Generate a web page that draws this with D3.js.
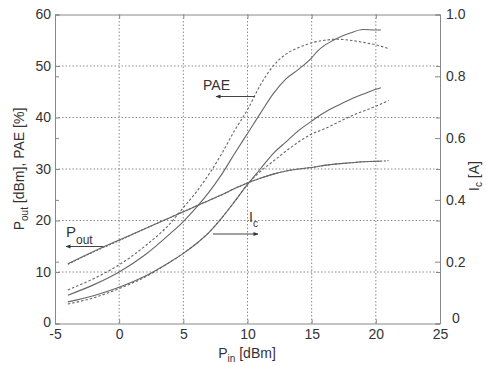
<!DOCTYPE html>
<html>
<head>
<meta charset="utf-8">
<script src="https://cdn.jsdelivr.net/npm/d3@7"></script>
<style>
  body { margin: 0; background: #fff; }
  svg { display: block; font-family: "Liberation Sans", Arial, sans-serif; }
</style>
</head>
<body>
<div id="svg-area"></div>
<script>
const width = 486;
const height = 365;
const margin = {top: 14.5, left: 55, bottom: 41.5, right: 46};

// measured (solid) and simulated (dotted) curves, Pin in dBm
const pinMeas = [-4, -2, 0, 2, 4, 5, 6, 7, 8, 9, 10, 11, 12, 13, 14, 15, 15.5, 16, 17, 18, 19, 20, 20.4];
const poutMeas = [11.6, 14, 16.2, 18.4, 20.6, 21.7, 22.8, 23.9, 25, 26.2, 27.3, 28.2, 29, 29.6, 30, 30.3, 30.5, 30.7, 31, 31.2, 31.4, 31.5, 31.5];
const paeMeas = [5.5, 7.5, 10, 13.3, 17.5, 19.8, 22.5, 25.5, 29, 33, 36.9, 40.8, 44.6, 47.5, 49.4, 51.6, 53, 54, 55.4, 56.4, 57.1, 57, 57];
const icMeas = [0.07, 0.09, 0.117, 0.153, 0.2, 0.227, 0.258, 0.295, 0.342, 0.395, 0.45, 0.5, 0.55, 0.588, 0.625, 0.655, 0.67, 0.683, 0.705, 0.725, 0.742, 0.758, 0.763];

const pinSim = [-4, -2, 0, 2, 4, 5, 6, 7, 8, 9, 10, 11, 12, 13, 14, 15, 16, 17, 18, 19, 20, 21];
const poutSim = [11.5, 13.9, 16.1, 18.4, 20.6, 21.7, 22.8, 23.9, 25, 26.2, 27.3, 28.2, 29, 29.6, 30, 30.3, 30.7, 31, 31.2, 31.4, 31.5, 31.6];
const paeSim = [6.5, 8.7, 11.4, 15, 19.5, 22.5, 25.5, 29, 33, 37.5, 41.5, 46.3, 50, 52.3, 53.6, 54.5, 55, 55.2, 55, 54.6, 54.1, 53.4];
const icSim = [0.063, 0.083, 0.113, 0.15, 0.2, 0.227, 0.258, 0.295, 0.342, 0.395, 0.45, 0.492, 0.525, 0.558, 0.588, 0.613, 0.63, 0.65, 0.67, 0.687, 0.703, 0.722];

const xTicks = [-5, 0, 5, 10, 15, 20, 25];
const yLeftTicks = [0, 10, 20, 30, 40, 50, 60];
const yRightTicks = [0, 0.2, 0.4, 0.6, 0.8, 1.0];

const x = d3.scaleLinear().domain([-5, 25]).range([margin.left, width - margin.right]);
const yL = d3.scaleLinear().domain([0, 60]).range([height - margin.bottom, margin.top]);
const yR = d3.scaleLinear().domain([0, 1]).range([height - margin.bottom, margin.top]);

const svg = d3.select('#svg-area').append('svg').attr('width', width).attr('height', height);

const gridColor = '#8a8a8a';
const lineColor = '#666';
const textColor = '#333';

// grid
svg.append('g')
  .selectAll('line').data(xTicks.slice(1, -1)).enter().append('line')
  .attr('x1', d => x(d)).attr('x2', d => x(d))
  .attr('y1', yL(0)).attr('y2', yL(60))
  .attr('stroke', gridColor).attr('stroke-dasharray', '1.5,2');
svg.append('g')
  .selectAll('line').data(yLeftTicks.slice(1, -1)).enter().append('line')
  .attr('x1', x(-5)).attr('x2', x(25))
  .attr('y1', d => yL(d)).attr('y2', d => yL(d))
  .attr('stroke', gridColor).attr('stroke-dasharray', '1.5,2');

// axes
const axisStyle = g => g
  .call(g => g.select('.domain').attr('stroke', '#888'))
  .call(g => g.selectAll('.tick line').attr('stroke', '#888'))
  .call(g => g.selectAll('text').attr('fill', textColor).style('font-size', '14px').style('font-family', '"Liberation Sans", Arial, sans-serif'));

svg.append('g')
  .attr('transform', `translate(0, ${yL(0)})`)
  .call(d3.axisBottom(x).tickValues(xTicks).tickSize(-4).tickPadding(6).tickSizeOuter(0)
    .tickFormat(d => String(d)))
  .call(axisStyle);
svg.append('g')
  .attr('transform', `translate(0, ${yL(60)})`)
  .call(d3.axisTop(x).tickValues(xTicks).tickSize(-4).tickFormat('').tickSizeOuter(0))
  .call(axisStyle);
svg.append('g')
  .attr('transform', `translate(${x(-5)}, 0)`)
  .call(d3.axisLeft(yL).tickValues(yLeftTicks).tickSize(-5).tickPadding(4).tickSizeOuter(0))
  .call(axisStyle)
  .call(g => g.selectAll('.tick text').filter(d => d === 0).attr('dy', '0.2em'));
// right axis ticks mirrored on the left
svg.append('g')
  .attr('transform', `translate(${x(-5)}, 0)`)
  .call(d3.axisRight(yR).tickValues(yRightTicks).tickSize(4).tickFormat('').tickSizeOuter(0))
  .call(axisStyle);
svg.append('g')
  .attr('transform', `translate(${x(25)}, 0)`)
  .call(d3.axisRight(yR).tickValues(yRightTicks).tickSize(-5).tickPadding(6).tickSizeOuter(0)
    .tickFormat(d => d === 0 ? '0' : d3.format('.1f')(d)))
  .call(axisStyle)
  .call(g => g.selectAll('.tick text').filter(d => d === 0).attr('dx', 6).attr('dy', '-0.1em'));
svg.append('g')
  .attr('transform', `translate(${x(25)}, 0)`)
  .call(d3.axisLeft(yL).tickValues(yLeftTicks).tickSize(4).tickFormat('').tickSizeOuter(0))
  .call(axisStyle);

// curves
const lineL = (xs) => d3.line().x((d, i) => x(xs[i])).y(d => yL(d));
const lineR = (xs) => d3.line().x((d, i) => x(xs[i])).y(d => yR(d));

const series = [
  {vals: poutSim, xs: pinSim, gen: lineL, dash: '2,1.5'},
  {vals: paeSim, xs: pinSim, gen: lineL, dash: '2.5,2'},
  {vals: icSim, xs: pinSim, gen: lineR, dash: '2.5,2'},
  {vals: poutMeas, xs: pinMeas, gen: lineL, dash: null},
  {vals: paeMeas, xs: pinMeas, gen: lineL, dash: null},
  {vals: icMeas, xs: pinMeas, gen: lineR, dash: null}
];

svg.append('g')
  .selectAll('path').data(series).enter().append('path')
  .attr('d', s => s.gen(s.xs).curve(d3.curveMonotoneX)(s.vals))
  .attr('fill', 'none')
  .attr('stroke', lineColor)
  .attr('stroke-width', 1.1)
  .attr('stroke-dasharray', s => s.dash);

// axis labels
svg.append('text')
  .attr('x', 247).attr('y', 358)
  .attr('text-anchor', 'middle')
  .attr('fill', textColor).style('font-size', '14px')
  .html('P<tspan dy="4" font-size="10">in</tspan><tspan dy="-4"> [dBm]</tspan>');

svg.append('text')
  .attr('transform', 'translate(24, 169) rotate(-90)')
  .attr('text-anchor', 'middle')
  .attr('fill', textColor).style('font-size', '14px')
  .html('P<tspan dy="4" font-size="10">out</tspan><tspan dy="-4"> [dBm], PAE [%]</tspan>');

svg.append('text')
  .attr('transform', 'translate(479, 176) rotate(-90)')
  .attr('text-anchor', 'middle')
  .attr('fill', textColor).style('font-size', '14px')
  .html('I<tspan dy="3" font-size="10">c</tspan><tspan dy="-3"> [A]</tspan>');

// annotations
svg.append('defs').append('marker')
  .attr('id', 'arr').attr('viewBox', '0 0 10 10')
  .attr('refX', 9).attr('refY', 5)
  .attr('markerWidth', 7).attr('markerHeight', 5)
  .attr('orient', 'auto')
  .append('path').attr('d', 'M0,1L10,5L0,9Z').attr('fill', '#333');

const arrows = [
  {x1: 255, y1: 96.5, x2: 216, y2: 96.5},
  {x1: 103, y1: 246.5, x2: 66, y2: 246.5},
  {x1: 213, y1: 234, x2: 258, y2: 234}
];
svg.append('g')
  .selectAll('line').data(arrows).enter().append('line')
  .attr('x1', d => d.x1).attr('y1', d => d.y1)
  .attr('x2', d => d.x2).attr('y2', d => d.y2)
  .attr('stroke', '#444').attr('stroke-width', 1)
  .attr('marker-end', 'url(#arr)');

svg.append('text')
  .attr('x', 203).attr('y', 90)
  .attr('fill', textColor).style('font-size', '14px')
  .text('PAE');
svg.append('text')
  .attr('x', 66).attr('y', 237)
  .attr('fill', textColor).style('font-size', '15px')
  .html('P<tspan dy="7" font-size="12">out</tspan>');
svg.append('text')
  .attr('x', 249).attr('y', 222)
  .attr('fill', textColor).style('font-size', '14px')
  .html('I<tspan dy="5" font-size="10">c</tspan>');
</script>
</body>
</html>
